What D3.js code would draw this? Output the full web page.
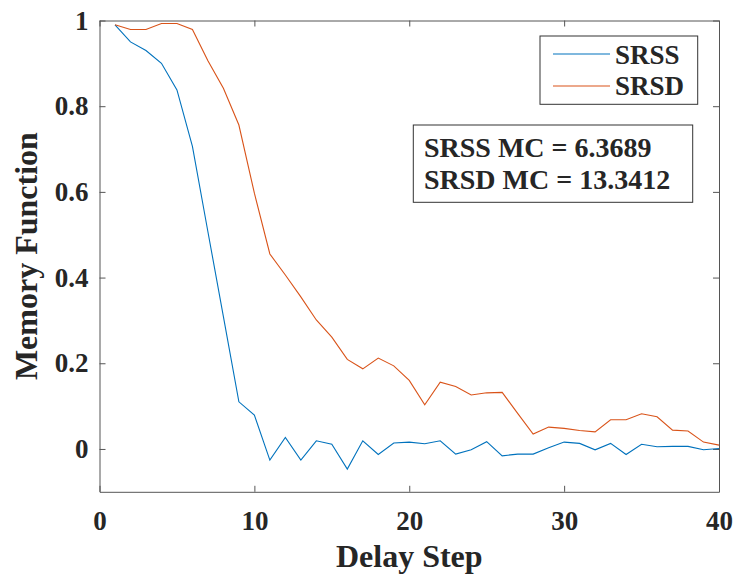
<!DOCTYPE html>
<html>
<head>
<meta charset="utf-8">
<script src="https://cdn.jsdelivr.net/npm/d3@7"></script>
<style>
  body { margin: 0; background: #fff; }
  text { font-family: "Liberation Serif", "Times New Roman", serif; font-weight: bold; fill: #262626; }
</style>
</head>
<body>
<div id="chart"></div>
<script>
// --------------------------------------------------------
// DATA
// --------------------------------------------------------
const delaySteps = d3.range(1, 41);
const srss = [0.99, 0.95, 0.93, 0.90, 0.838, 0.706, 0.507, 0.309, 0.110, 0.079,
  -0.026, 0.027, -0.026, 0.019, 0.011, -0.047, 0.019, -0.013, 0.014, 0.016,
  0.012, 0.019, -0.012, -0.002, 0.017, -0.016, -0.012, -0.012, 0.003, 0.016,
  0.013, -0.002, 0.013, -0.013, 0.011, 0.005, 0.006, 0.006, -0.002, 0.001];
const srsd = [0.99, 0.979, 0.979, 0.993, 0.993, 0.979, 0.906, 0.842, 0.756, 0.597,
  0.455, 0.406, 0.355, 0.301, 0.261, 0.209, 0.187, 0.212, 0.194, 0.160,
  0.103, 0.156, 0.146, 0.126, 0.131, 0.132, 0.083, 0.035, 0.051, 0.048,
  0.043, 0.040, 0.068, 0.068, 0.082, 0.075, 0.044, 0.042, 0.016, 0.009];
const seriesNames = ["SRSS", "SRSD"];
const mcLines = ["SRSS MC = 6.3689", "SRSD MC = 13.3412"];
const xTicks = [0, 10, 20, 30, 40];
const yTicks = [0, 0.2, 0.4, 0.6, 0.8, 1];

// --------------------------------------------------------
// LAYOUT
// --------------------------------------------------------
const width = 735, height = 575;
const plotLeft = 99.5, plotRight = 719, plotTop = 20.5, plotBottom = 491.8;
const colors = ["#0072BD", "#D95319"];
const axisColor = "#555";

const svg = d3.select("#chart").append("svg")
  .attr("width", width).attr("height", height);

const x = d3.scaleLinear().domain([0, 40]).range([plotLeft, plotRight]);
const y = d3.scaleLinear().domain([-0.1, 1]).range([plotBottom, plotTop]);

// axes (ticks inward on all four sides)
function styleAxis(g) {
  g.selectAll("path, line").attr("stroke", axisColor);
  g.selectAll("text").style("font-size", "27px").attr("fill", "#262626");
}
svg.append("g").attr("transform", `translate(0,${plotBottom})`)
  .call(d3.axisBottom(x).tickValues(xTicks).tickSize(-6).tickSizeOuter(0).tickPadding(19))
  .call(styleAxis);
svg.append("g").attr("transform", `translate(0,${plotTop})`)
  .call(d3.axisTop(x).tickValues(xTicks).tickSize(-6).tickSizeOuter(0).tickFormat(""))
  .call(styleAxis);
svg.append("g").attr("transform", `translate(${plotLeft},0)`)
  .call(d3.axisLeft(y).tickValues(yTicks).tickSize(-6).tickSizeOuter(0).tickPadding(11)
    .tickFormat(d => d === 0 || d === 1 ? String(d) : d3.format(".1f")(d)))
  .call(styleAxis);
svg.append("g").attr("transform", `translate(${plotRight},0)`)
  .call(d3.axisRight(y).tickValues(yTicks).tickSize(-6).tickSizeOuter(0).tickFormat(""))
  .call(styleAxis);

// lines
const line = d3.line().x((d, i) => x(delaySteps[i])).y(d => y(d));
[srss, srsd].forEach((s, i) => {
  svg.append("path").datum(s)
    .attr("fill", "none")
    .attr("stroke", colors[i])
    .attr("stroke-width", 1.1)
    .attr("d", line);
});

// axis labels
svg.append("text")
  .attr("x", (plotLeft + plotRight) / 2).attr("y", 566.5)
  .attr("text-anchor", "middle")
  .style("font-size", "32px")
  .text("Delay Step");
svg.append("text")
  .attr("transform", `translate(37,${(plotTop + plotBottom) / 2}) rotate(-90)`)
  .attr("text-anchor", "middle")
  .style("font-size", "32px")
  .text("Memory Function");

// legend
const legend = svg.append("g");
legend.append("rect")
  .attr("x", 540).attr("y", 36).attr("width", 157.7).attr("height", 68.3)
  .attr("fill", "#fff").attr("stroke", "#333").attr("stroke-width", 1);
seriesNames.forEach((name, i) => {
  const ly = 54 + i * 32;
  legend.append("line")
    .attr("x1", 553).attr("x2", 610).attr("y1", ly).attr("y2", ly)
    .attr("stroke", colors[i]).attr("stroke-width", 1.1);
  legend.append("text")
    .attr("x", 615).attr("y", 64 + i * 31)
    .style("font-size", "27px")
    .text(name);
});

// MC annotation box
svg.append("rect")
  .attr("x", 413.3).attr("y", 125).attr("width", 279.4).attr("height", 77.3)
  .attr("fill", "#fff").attr("stroke", "#333").attr("stroke-width", 1);
mcLines.forEach((t, i) => {
  svg.append("text")
    .attr("x", 424).attr("y", 157.3 + i * 31.7)
    .style("font-size", "28px")
    .text(t);
});
</script>
</body>
</html>
